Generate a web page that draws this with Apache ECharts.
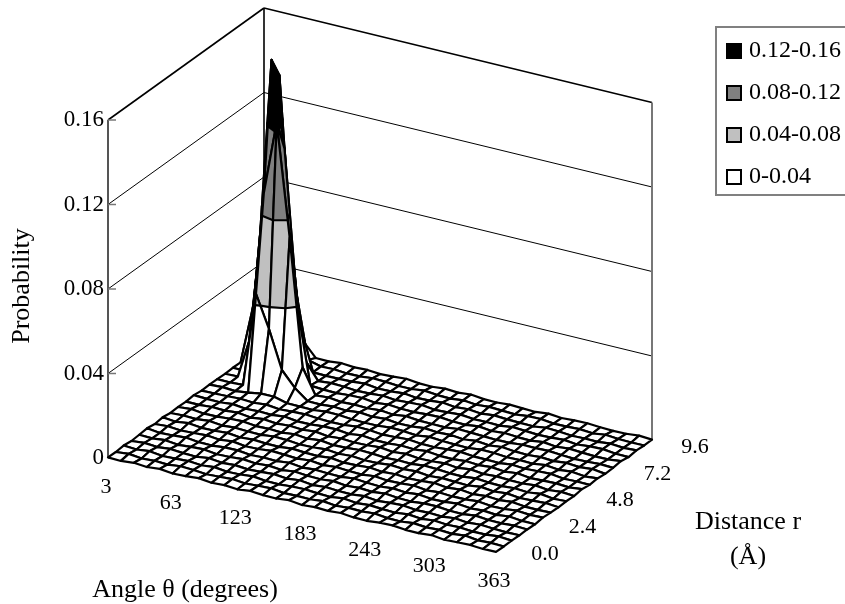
<!DOCTYPE html>
<html>
<head>
<meta charset="utf-8">
<style>html,body{margin:0;padding:0;background:#fff}#c{width:845px;height:604px}</style>
<script src="https://cdn.jsdelivr.net/npm/echarts@6/dist/echarts.min.js"></script>
</head>
<body>
<div id="c"></div>
<script>
const thetaTicks = [3, 63, 123, 183, 243, 303, 363];
const rTicks = ['0.0', '2.4', '4.8', '7.2', '9.6'];
const probTicks = [0, 0.04, 0.08, 0.12, 0.16];
const probLabels = ['0', '0.04', '0.08', '0.12', '0.16'];
const bandNames = ['0-0.04', '0.04-0.08', '0.08-0.12', '0.12-0.16'];
const bandLimits = [[0, 0.04], [0.04, 0.08], [0.08, 0.12], [0.12, 0.16]];
const bandColors = ['#ffffff', '#c0c0c0', '#808080', '#000000'];
const thetaStep = 12, rStep = 0.48, probUnit = 1e-4;
// probability in units of probUnit; rows are r = 0.00 ... 9.60, columns theta = 3 ... 363
const probRows = [
[3,1,7,2,8,1,4,9,2,6,1,8,3,2,9,1,6,3,8,2,1,7,9,3,2,8,1,4,6,2,3],
[2,8,1,5,2,9,6,1,4,8,2,6,9,1,3,2,8,1,6,4,9,2,1,8,3,6,2,9,1,4,2],
[6,2,9,1,4,7,2,8,1,3,9,2,1,6,8,3,1,9,2,7,3,1,8,2,9,4,6,1,2,8,3],
[1,7,2,8,3,1,9,2,6,1,4,8,2,9,1,7,3,2,8,1,6,9,2,4,1,8,2,7,3,1,2],
[4,2,8,1,6,9,1,3,8,2,7,1,9,4,2,8,1,6,2,9,3,1,7,8,2,1,9,3,2,6,3],
[8,1,4,9,2,1,7,8,1,4,2,9,1,6,3,2,9,4,1,7,2,8,1,3,9,2,6,1,8,2,1],
[2,6,1,4,8,2,9,1,3,9,6,2,8,1,7,3,1,8,2,4,9,1,6,2,3,8,1,2,9,4,6],
[7,1,9,2,3,8,1,6,2,1,8,4,2,9,1,3,8,2,6,1,4,9,2,8,1,7,3,9,2,1,3],
[1,4,2,8,1,6,3,2,9,7,1,3,8,2,6,1,2,9,4,8,1,6,3,1,9,2,8,1,4,7,2],
[3,8,1,2,7,9,2,4,1,8,2,9,1,3,8,6,1,4,2,9,7,2,1,8,3,1,6,2,9,1,4],
[2,1,6,4,9,1,8,2,7,3,9,1,6,2,4,9,2,8,1,3,8,1,9,2,6,3,2,8,1,7,2],
[6,3,2,8,1,4,2,9,1,2,7,8,1,9,2,1,6,3,9,2,1,7,3,8,2,9,1,4,6,2,8],
[1,2,4,7,3,9,2,6,8,3,1,2,9,7,1,4,8,2,1,6,9,3,2,1,8,4,7,9,1,3,2],
[3,6,2,10,20,20,4,3,2,9,8,3,1,2,8,6,1,9,4,2,1,8,7,2,3,1,9,2,8,1,6],
[2,1,5,450,300,120,50,2,1,6,2,9,3,8,1,2,9,4,7,1,8,2,9,3,1,6,2,8,3,9,1],
[1,3,210,900,1250,720,120,3,8,1,4,2,7,1,9,3,2,1,8,6,3,1,2,8,7,9,4,1,2,6,3],
[3,2,560,1505,1100,360,8,4,2,7,9,1,8,3,2,6,8,2,1,9,2,7,3,1,9,2,8,4,1,2,8],
[2,290,950,1406,540,85,3,8,6,1,3,8,2,6,9,1,4,8,2,3,1,9,6,2,4,8,1,7,9,2,1],
[2,600,900,770,210,3,1,2,4,9,1,2,8,1,3,9,2,7,1,8,4,2,1,9,6,1,3,2,8,3,6],
[320,700,500,360,20,4,6,1,2,8,6,1,2,9,3,1,8,2,7,4,1,8,9,2,3,6,1,9,4,2,3],
[300,300,150,70,3,2,8,3,6,1,4,9,2,1,7,3,9,2,1,6,3,1,8,2,6,7,3,1,2,8,4]
];

// oblique projection of the plot box
const origin = [108, 458], thetaVec = [388, 94.5], rVec = [156, -112], probHeight = 338;
const thetaMin = 3, thetaMax = 363, rMin = 0, rMax = 9.6, probMax = 0.16;
const FONT = '"Liberation Serif","Times New Roman",serif';
const FS = 22, FS_PROB = 23, FS_LEGEND = 24, FS_TITLE = 26;
function project(theta, r, p) {
  const a = (theta - thetaMin) / (thetaMax - thetaMin), b = (r - rMin) / (rMax - rMin);
  return [origin[0] + a * thetaVec[0] + b * rVec[0],
          origin[1] + a * thetaVec[1] + b * rVec[1] - p / probMax * probHeight];
}
const nodeVal = (k, j) => probRows[j][k] * probUnit;
const node = (k, j) => ({ t: thetaMin + k * thetaStep, r: rMin + j * rStep, p: nodeVal(k, j) });
const nCols = probRows[0].length - 1, nRows = probRows.length - 1;

// quads sorted back to front
const quads = [];
for (let j = 0; j < nRows; j++) for (let k = 0; k < nCols; k++) quads.push([k, j]);
const depth = q => project(node(q[0], q[1]).t + thetaStep / 2, node(q[0], q[1]).r + rStep / 2, 0)[1];
quads.sort((a, b) => depth(a) - depth(b));
const rank = new Map(quads.map((q, i) => [q[0] + ',' + q[1], i]));
const quadPts = (k, j) => [node(k, j), node(k + 1, j), node(k + 1, j + 1), node(k, j + 1)];

function clipAt(poly, level, keepAbove) {
  const out = [];
  for (let i = 0; i < poly.length; i++) {
    const A = poly[i], B = poly[(i + 1) % poly.length];
    const ia = keepAbove ? A.p >= level : A.p <= level;
    const ib = keepAbove ? B.p >= level : B.p <= level;
    if (ia) out.push(A);
    if (ia !== ib) {
      const f = (level - A.p) / (B.p - A.p);
      out.push({ t: A.t + f * (B.t - A.t), r: A.r + f * (B.r - A.r), p: level });
    }
  }
  return out;
}
function bandPoly(k, j, band) {
  let poly = quadPts(k, j);
  const [lo, hi] = bandLimits[band];
  if (band > 0) poly = clipAt(poly, lo, true);
  if (poly.length && band < bandLimits.length - 1) poly = clipAt(poly, hi, false);
  return poly;
}
function contourSegs(k, j) {
  const segs = [], pts = quadPts(k, j);
  for (let l = 1; l < probTicks.length - 1; l++) {
    const level = probTicks[l], cross = [];
    for (let i = 0; i < 4; i++) {
      const A = pts[i], B = pts[(i + 1) % 4];
      if ((A.p < level) !== (B.p < level)) {
        const f = (level - A.p) / (B.p - A.p);
        cross.push({ t: A.t + f * (B.t - A.t), r: A.r + f * (B.r - A.r), p: level });
      }
    }
    for (let i = 0; i + 1 < cross.length; i += 2) segs.push([cross[i], cross[i + 1]]);
  }
  return segs;
}
const toCoord = (api, P) => api.coord(project(P.t, P.r, P.p));

// surface band series
const bandSeries = bandNames.map((name, band) => ({
  type: 'custom', name, coordinateSystem: 'cartesian2d', clip: false, silent: true,
  itemStyle: { color: bandColors[band] }, z: 3,
  data: quads.filter(q => bandPoly(q[0], q[1], band).length > 2),
  renderItem(params, api) {
    const k = api.value(0), j = api.value(1);
    return {
      type: 'polygon', z2: rank.get(k + ',' + j) * 2,
      shape: { points: bandPoly(k, j, band).map(P => toCoord(api, P)) },
      style: { fill: bandColors[band], stroke: bandColors[band], lineWidth: 0.4 }
    };
  }
}));

// mesh + contour lines
const meshSeries = {
  type: 'custom', name: 'mesh', coordinateSystem: 'cartesian2d', clip: false, silent: true, z: 3,
  data: quads,
  renderItem(params, api) {
    const k = api.value(0), j = api.value(1), z2 = rank.get(k + ',' + j) * 2 + 1;
    const kids = [{
      type: 'polygon', z2,
      shape: { points: quadPts(k, j).map(P => toCoord(api, P)) },
      style: { fill: 'none', stroke: '#000', lineWidth: 2.2, lineJoin: 'round' }
    }];
    contourSegs(k, j).forEach(s => {
      const a = toCoord(api, s[0]), b = toCoord(api, s[1]);
      kids.push({ type: 'line', z2, shape: { x1: a[0], y1: a[1], x2: b[0], y2: b[1] },
        style: { stroke: '#000', lineWidth: 2.2, lineCap: 'round' } });
    });
    return { type: 'group', children: kids };
  }
};

// walls: axis box built from the tick values
const wall = [];
probTicks.forEach((p, i) => {
  const top = i === probTicks.length - 1;
  if (p > 0) {
    wall.push({ a: [thetaMin, rMin, p], b: [thetaMin, rMax, p], c: '#000', w: top ? 1.6 : 1 });
    wall.push({ a: [thetaMin, rMax, p], b: [thetaMax, rMax, p], c: '#000', w: top ? 1.6 : 1 });
  }
});
wall.push({ a: [thetaMin, rMin, 0], b: [thetaMin, rMin, probMax], c: '#555', w: 2 });
wall.push({ a: [thetaMin, rMax, 0], b: [thetaMin, rMax, probMax], c: '#000', w: 1.6 });
wall.push({ a: [thetaMax, rMax, 0], b: [thetaMax, rMax, probMax], c: '#777', w: 2 });
const wallSeries = {
  type: 'custom', name: 'walls', coordinateSystem: 'cartesian2d', clip: false, silent: true, z: 2,
  data: wall.map((_, i) => [i]),
  renderItem(params, api) {
    const s = wall[api.value(0)];
    const a = api.coord(project(...s.a)), b = api.coord(project(...s.b));
    return { type: 'line', shape: { x1: a[0], y1: a[1], x2: b[0], y2: b[1] },
      style: { stroke: s.c, lineWidth: s.w } };
  }
};
const tickSeries = {
  type: 'custom', name: 'probTicks', coordinateSystem: 'cartesian2d', clip: false, silent: true, z: 2,
  data: probTicks.map((_, i) => [i]),
  renderItem(params, api) {
    const i = api.value(0), c = api.coord(project(thetaMin, rMin, probTicks[i]));
    return { type: 'group', children: [
      { type: 'line', shape: { x1: c[0], y1: c[1], x2: c[0] + 8, y2: c[1] }, style: { stroke: '#777', lineWidth: 1.5 } },
      { type: 'text', x: c[0] - 4, y: c[1], style: { text: probLabels[i], fill: '#000', font: FS_PROB + 'px ' + FONT, textAlign: 'right', textVerticalAlign: 'middle' } }
    ] };
  }
};
const thetaLabelSeries = {
  type: 'custom', name: 'thetaLabels', coordinateSystem: 'cartesian2d', clip: false, silent: true, z: 2,
  data: thetaTicks.map((_, i) => [i]),
  renderItem(params, api) {
    const i = api.value(0), c = api.coord(project(thetaTicks[i], rMin, 0));
    return { type: 'text', x: c[0] - 2, y: c[1] + 29, style: { text: String(thetaTicks[i]), fill: '#000', font: FS + 'px ' + FONT, textAlign: 'center', textVerticalAlign: 'middle' } };
  }
};
const rLabelSeries = {
  type: 'custom', name: 'rLabels', coordinateSystem: 'cartesian2d', clip: false, silent: true, z: 2,
  data: rTicks.map((_, i) => [i]),
  renderItem(params, api) {
    const i = api.value(0), r = parseFloat(rTicks[i]), b = r / rMax, c = api.coord(project(thetaMax, r, 0));
    return { type: 'text', x: c[0] + 49 - 6 * b, y: c[1] + 1.5 + 5 * b, style: { text: rTicks[i], fill: '#000', font: FS + 'px ' + FONT, textAlign: 'center', textVerticalAlign: 'middle' } };
  }
};

const titleText = (text, x, y, rotation) => ({
  type: 'text', x, y, rotation: rotation || 0, silent: true,
  style: { text, fill: '#000', font: FS_TITLE + 'px ' + FONT, textAlign: 'center', textVerticalAlign: 'middle' }
});

const chart = echarts.init(document.getElementById('c'), null, { renderer: 'canvas' });
chart.setOption({
  animation: false,
  backgroundColor: '#fff',
  grid: { left: 0, right: 0, top: 0, bottom: 0 },
  xAxis: { type: 'value', min: 0, max: 845, show: false },
  yAxis: { type: 'value', min: 0, max: 604, inverse: true, show: false },
  legend: {
    left: 716, top: 27, orient: 'vertical', selectedMode: false,
    data: bandNames.slice().reverse(),
    icon: 'rect', itemWidth: 14, itemHeight: 14, itemGap: 18,
    padding: [12, 50, 6, 10], borderColor: '#808080', borderWidth: 2,
    itemStyle: { borderColor: '#000', borderWidth: 2 },
    textStyle: { fontFamily: FONT, fontSize: FS_LEGEND, color: '#000', lineHeight: 22, padding: [0, 0, 0, 3] }
  },
  graphic: [
    titleText('Probability', 22, 286, Math.PI / 2),
    titleText('Angle θ (degrees)', 185, 590),
    titleText('Distance r', 748, 522),
    titleText('(Å)', 748, 557)
  ],
  series: [wallSeries, tickSeries, thetaLabelSeries, rLabelSeries, ...bandSeries, meshSeries]
});
</script>
</body>
</html>
